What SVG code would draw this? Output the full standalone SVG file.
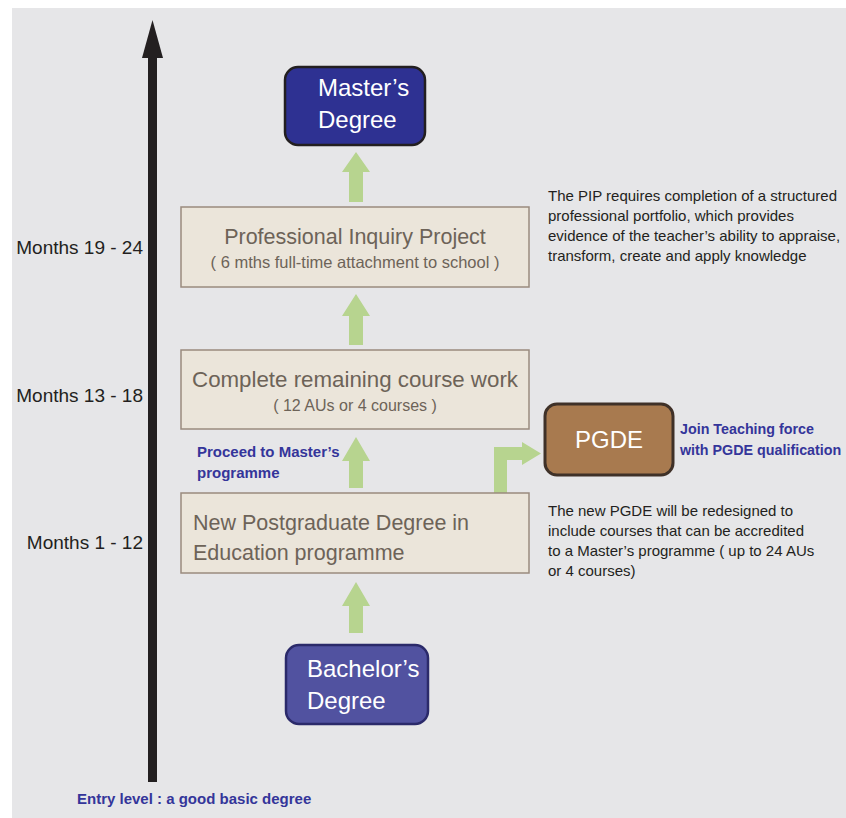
<svg xmlns="http://www.w3.org/2000/svg" width="846" height="818" viewBox="0 0 846 818">
<defs>
<style>
.box{fill:#ebe5da;stroke:#9a8b7e;stroke-width:1.5}
.bt{font-family:"Liberation Sans",Arial,sans-serif;fill:#6d6358;text-anchor:middle}
.bl{font-family:"Liberation Sans",Arial,sans-serif;fill:#6d6358;text-anchor:start;font-size:21.5px}
.wt{font-family:"Liberation Sans",Arial,sans-serif;fill:#ffffff;font-size:24px}
.mo{font-family:"Liberation Sans",Arial,sans-serif;fill:#231f20;font-size:19px;text-anchor:end}
.note{font-family:"Liberation Sans",Arial,sans-serif;fill:#231f20;font-size:15px}
.blue{font-family:"Liberation Sans",Arial,sans-serif;fill:#34359a;font-size:15px;font-weight:bold}
.blue2{font-family:"Liberation Sans",Arial,sans-serif;fill:#34359a;font-size:14.3px;font-weight:bold}
.green{fill:#b7d48f}
</style>
</defs>
<rect x="0" y="0" width="846" height="818" fill="#ffffff"/>
<rect x="12" y="8" width="834" height="810" fill="#e6e6e8"/>

<g id="axis">
<rect x="148" y="56" width="9" height="726" fill="#231f20"/>
<polygon points="152.5,20 163,58 142,58" fill="#231f20"/>
</g>

<g id="connectors">
<polygon class="green" points="356,152 370,172 363,172 363,202 349,202 349,172 342,172"/>
<polygon class="green" points="356,294 370,316 363,316 363,345 349,345 349,316 342,316"/>
<polygon class="green" points="356,437 370,461 363,461 363,488 349,488 349,461 342,461"/>
<polygon class="green" points="356,582 370,606 363,606 363,633 349,633 349,606 342,606"/>
<polygon class="green" points="494,493 494,447 522,447 522,442 541,453.5 522,465 522,460 507,460 507,493"/>
</g>

<g id="masters">
<rect x="285" y="67" width="140" height="78" rx="13" fill="#2e3192" stroke="#231f20" stroke-width="2.5"/>
<text class="wt" x="318" y="96">Master’s</text>
<text class="wt" x="318" y="128">Degree</text>
</g>

<g id="pip">
<rect class="box" x="181" y="207" width="348" height="80"/>
<text class="bt" x="355" y="244" font-size="21.5">Professional Inquiry Project</text>
<text class="bt" x="355" y="268" font-size="16.5">( 6 mths full-time attachment to school )</text>
</g>

<g id="coursework">
<rect class="box" x="181" y="350" width="348" height="79"/>
<text class="bt" x="355" y="387" font-size="22.3">Complete remaining course work</text>
<text class="bt" x="355" y="411" font-size="16">( 12 AUs or 4 courses )</text>
</g>

<g id="newpgde">
<rect class="box" x="181" y="493" width="348" height="80"/>
<text class="bl" x="193" y="530">New Postgraduate Degree in</text>
<text class="bl" x="193" y="560">Education programme</text>
</g>

<g id="pgde">
<rect x="545" y="404" width="128" height="71" rx="12" fill="#a87a4f" stroke="#3f3128" stroke-width="3"/>
<text class="wt" x="609" y="448" text-anchor="middle">PGDE</text>
</g>

<g id="bachelors">
<rect x="286" y="645" width="142" height="79" rx="13" fill="#5152a0" stroke="#2b2a6a" stroke-width="2.5"/>
<text class="wt" x="307" y="677">Bachelor’s</text>
<text class="wt" x="307" y="709">Degree</text>
</g>

<g id="labels">
<text class="mo" x="143" y="254">Months 19 - 24</text>
<text class="mo" x="143" y="402">Months 13 - 18</text>
<text class="mo" x="143" y="549">Months 1 - 12</text>

<text class="note" x="548" y="201">The PIP requires completion of a structured</text>
<text class="note" x="548" y="221">professional portfolio, which provides</text>
<text class="note" x="548" y="241">evidence of the teacher’s ability to appraise,</text>
<text class="note" x="548" y="261">transform, create and apply knowledge</text>

<text class="note" x="548" y="516">The new PGDE will be redesigned to</text>
<text class="note" x="548" y="536">include courses that can be accredited</text>
<text class="note" x="548" y="556">to a Master’s programme ( up to 24 AUs</text>
<text class="note" x="548" y="576">or 4 courses)</text>

<text class="blue2" x="680" y="434">Join Teaching force</text>
<text class="blue2" x="680" y="455">with PGDE qualification</text>

<text class="blue" x="197" y="457">Proceed to Master’s</text>
<text class="blue" x="197" y="478">programme</text>

<text class="blue" x="77" y="804">Entry level : a good basic degree</text>
</g>
</svg>
